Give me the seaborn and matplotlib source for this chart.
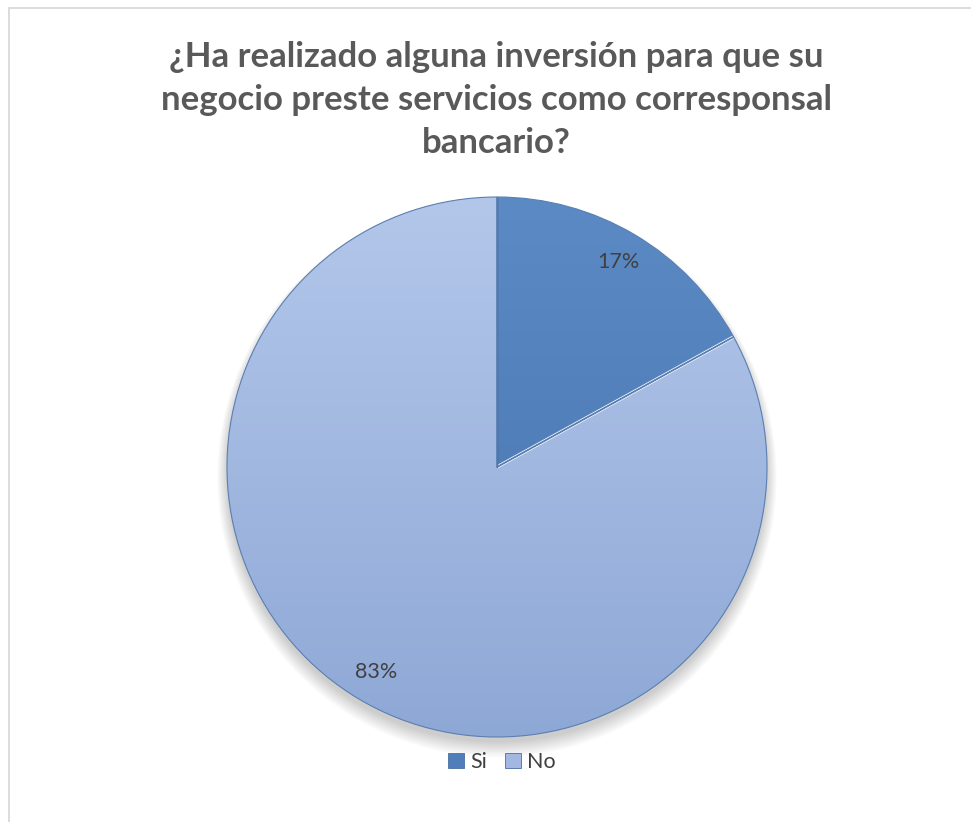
import numpy as np
import matplotlib
matplotlib.use("Agg")
import matplotlib.pyplot as plt
from matplotlib.patches import Patch, Rectangle
import seaborn as sns

categories = ["Si", "No"]
values = [17, 83]
title_lines = ["¿Ha realizado alguna inversión para que su",
               "negocio preste servicios como corresponsal",
               "bancario?"]

sns.set_theme(style="white")
plt.rcParams["font.family"] = ["Lato", "DejaVu Sans"]

W, H = 971, 822
fig = plt.figure(figsize=(W / 100, H / 100), dpi=100)
fig.patch.set_facecolor("white")

# chart-area frame
fig.add_artist(Rectangle((9 / W, -0.05), 1.2, 1 - 8 / H + 0.05, transform=fig.transFigure,
                         fill=False, edgecolor="#d9d9d9", linewidth=1.3))

cx, cy, R = 497, 467, 270
ax = fig.add_axes([(cx - R) / W, (H - cy - R) / H, 2 * R / W, 2 * R / H])
ax.set_facecolor("none")

palette = sns.color_palette(["#4F7EBB", "#A2B8E0"])

# soft shadow under the pie
for i in range(10):
    c = plt.Circle((0.0, -0.02 - i * 0.002), 1.0 + i * 0.004,
                   color="#000000", alpha=0.02, zorder=0, lw=0)
    c.set_clip_on(False)
    ax.add_patch(c)

wedges, texts, autotexts = ax.pie(
    values, labels=None, colors=palette, startangle=90, counterclock=False,
    autopct=lambda p: f"{p:.0f}%", pctdistance=0.88,
    wedgeprops=dict(edgecolor="#5a7fb0", linewidth=0.8),
    textprops=dict(color="#404040", fontsize=15.5), radius=1.0)

# vertical shading inside each slice
grad = np.linspace(0, 1, 256).reshape(-1, 1)
shades = [("#5b8ac4", "#4672ad"), ("#b3c7ea", "#8ea8d6")]
for w, (top, bot) in zip(wedges, shades):
    cmap = matplotlib.colors.LinearSegmentedColormap.from_list("s", [bot, top])
    im = ax.imshow(grad, extent=[-1, 1, -1, 1], origin="lower", cmap=cmap,
                   aspect="auto", zorder=1.5)
    im.set_clip_path(w)

# light bevel along the edges between slices
theta_split = np.deg2rad(90 - 360 * values[0] / sum(values))
ax.plot([0, np.cos(theta_split)], [0, np.sin(theta_split)], color="#dfe8f7",
        lw=2.5, zorder=2, solid_capstyle="butt")
ax.plot([0, 0], [0, 1], color="#3d5f8f", lw=1.0, zorder=2)
ax.plot([0, np.cos(theta_split)], [0, np.sin(theta_split)], color="#3d5f8f",
        lw=0.8, zorder=2.1)
for w in wedges:
    w.set_zorder(2.2)
    w.set_facecolor("none")
for t in autotexts:
    t.set_zorder(3)

ax.set_xlim(-1, 1)
ax.set_ylim(-1, 1)
ax.set_aspect("equal")
ax.axis("off")

# title
ys = [57, 100, 143]
for line, y in zip(title_lines, ys):
    fig.text(496 / W, 1 - y / H, line, ha="center", va="center",
             fontsize=25, fontweight="bold", color="#595959")

handles = [Patch(facecolor=c, edgecolor="#4a6f9f", linewidth=0.6) for c in palette]
fig.legend(handles, categories, loc="center", bbox_to_anchor=(502 / W, 1 - 762 / H),
           ncol=2, frameon=False, fontsize=15.5, handlelength=0.75, handleheight=0.75,
           handletextpad=0.3, columnspacing=0.8, labelcolor="#404040")

fig.savefig("out.png", dpi=100, facecolor="white")
